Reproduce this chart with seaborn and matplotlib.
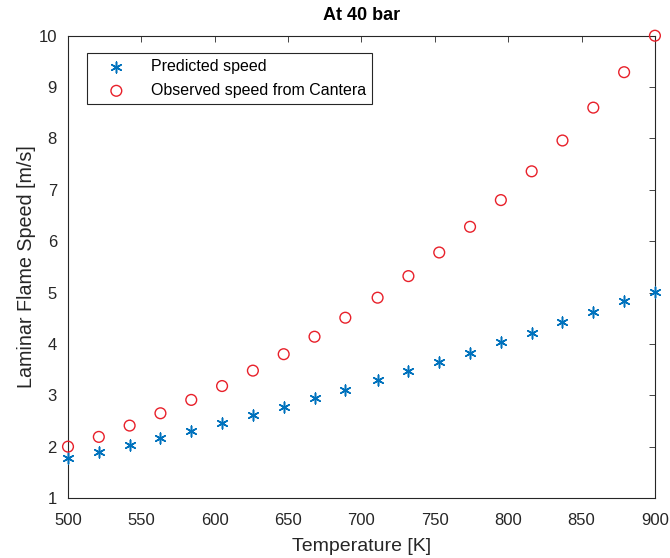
import matplotlib
matplotlib.use("Agg")
import matplotlib.pyplot as plt
import seaborn as sns
import pandas as pd

temperature = [500, 521, 542, 563, 584, 605, 626, 647, 668, 689,
               711, 732, 753, 774, 795, 816, 837, 858, 879, 900]
predicted = [1.77, 1.90, 2.03, 2.17, 2.31, 2.46, 2.62, 2.78, 2.94, 3.11,
             3.29, 3.47, 3.65, 3.83, 4.03, 4.22, 4.42, 4.63, 4.83, 5.02]
observed = [2.00, 2.19, 2.41, 2.65, 2.91, 3.18, 3.48, 3.80, 4.14, 4.51,
            4.90, 5.32, 5.78, 6.28, 6.80, 7.36, 7.96, 8.60, 9.29, 10.0]
xticks = [500, 550, 600, 650, 700, 750, 800, 850, 900]
yticks = [1, 2, 3, 4, 5, 6, 7, 8, 9, 10]

sns.set_style("white")
plt.rcParams['font.family'] = ['Liberation Sans', 'DejaVu Sans']
txt = '#262626'

df = pd.DataFrame({'T': temperature, 'pred': predicted, 'obs': observed})

fig = plt.figure(figsize=(6.7, 5.58), dpi=100)
ax = fig.add_axes([0.1015, 0.1075, 0.876, 0.8285])

sns.scatterplot(data=df, x='T', y='pred', ax=ax, marker=(6, 2, 0), s=60,
                color='#0072BD', linewidth=1.1, edgecolor='#0072BD',
                label='Predicted speed', clip_on=False, zorder=3)
sns.scatterplot(data=df, x='T', y='obs', ax=ax, marker='o', s=60,
                facecolor='none', edgecolor='#E8202A', linewidth=1.0,
                label='Observed speed from Cantera', clip_on=False, zorder=3)

ax.set_xlim(500, 900)
ax.set_ylim(1, 10)
ax.set_xticks(xticks)
ax.set_yticks(yticks)
ax.tick_params(direction='in', length=4, width=0.6, colors=txt, labelsize=12,
               top=True, right=True, labeltop=False, labelright=False)
ax.tick_params(axis='x', pad=11)
ax.tick_params(axis='y', pad=8)
for s in ax.spines.values():
    s.set_color(txt)
    s.set_linewidth(0.8)
    s.set_visible(True)

ax.set_xlabel('Temperature [K]', fontsize=14, color=txt, labelpad=7)
ax.set_ylabel('Laminar Flame Speed [m/s]', fontsize=14.2, color=txt, labelpad=2)
ax.set_title('At 40 bar', fontsize=13, fontweight='bold', color='black', pad=11)

leg = ax.legend(loc='upper left', bbox_to_anchor=(0.032, 0.963), fontsize=11.5,
                frameon=True, fancybox=False, edgecolor=txt, framealpha=1,
                handletextpad=0.7, borderpad=0.4, labelspacing=0.55,
                handlelength=2.9, borderaxespad=0)
leg.get_frame().set_linewidth(0.8)
for t in leg.get_texts():
    t.set_color('black')

fig.savefig('out.png', dpi=100)
